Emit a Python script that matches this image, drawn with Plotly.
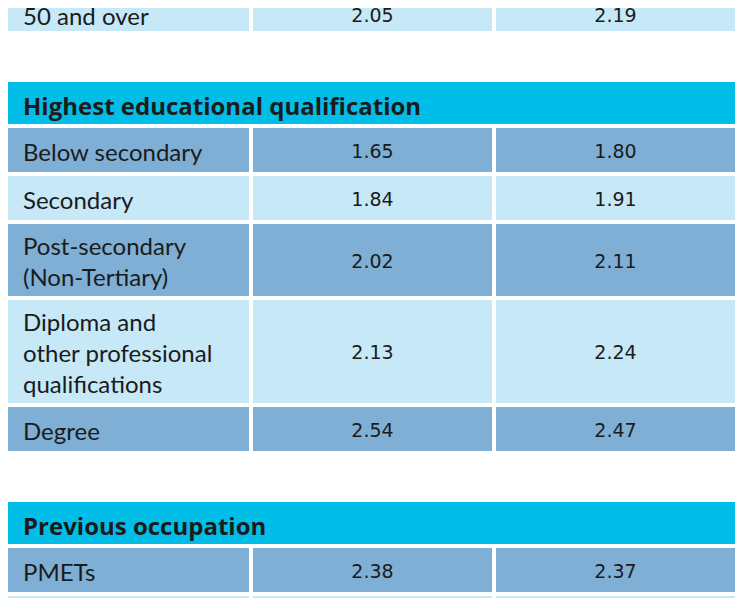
import plotly.graph_objects as go

# table content, top to bottom ("head" rows are section headers spanning the table)
labels = [
    "50 and over",
    "Highest educational qualification",
    "Below secondary",
    "Secondary",
    "Post-secondary<br>(Non-Tertiary)",
    "Diploma and<br>other professional<br>qualifications",
    "Degree",
    "Previous occupation",
    "PMETs",
    "",
]
col2_values = ["2.05", "", "1.65", "1.84", "2.02", "2.13", "2.54", "", "2.38", ""]
col3_values = ["2.19", "", "1.80", "1.91", "2.11", "2.24", "2.47", "", "2.37", ""]
row_kind = ["light", "head", "dark", "light", "dark", "light", "dark", "head", "dark", "light"]

# layout constants (pixels)
W, H = 747, 598
PAD = 8  # page body margin, the axes are shifted so data units equal window pixels
COLS = [(7, 249), (253, 492), (496, 735)]
GAP = 4
SECTION_GAP = 51
ROW_H = {1: 44, 2: 72, 3: 103}
FIRST_ROW_H = 34  # only the lower part of the first row is in view
HEAD_H = 42
FILL = {"light": "#C6E8F7", "dark": "#7FAFD5", "head": "#00BEE8"}
TEXT = "#1b1b1b"
LABEL_FONT = "Lato"
HEAD_FONT = "Open Sans"
NUM_FONT = "DejaVu Sans"

fig = go.Figure()
shapes, annotations = [], []
num_x, num_y, num_text = [], [], []

y = 31 - FIRST_ROW_H
for i, (lab, v2, v3, kind) in enumerate(zip(labels, col2_values, col3_values, row_kind)):
    if kind == "head":
        if i > 0:
            y += SECTION_GAP - GAP
        h = HEAD_H
        shapes.append(dict(type="rect", xref="x", yref="y", x0=COLS[0][0], x1=COLS[2][1],
                           y0=y, y1=y + h, fillcolor=FILL[kind], line_width=0, layer="below"))
        annotations.append(dict(x=COLS[0][0] + 14, y=y + h / 2 + 2, xref="x", yref="y",
                                text="<b>" + lab + "</b>", showarrow=False, xanchor="left",
                                yanchor="middle", font=dict(family=HEAD_FONT, size=24, color=TEXT)))
    else:
        h = FIRST_ROW_H if i == 0 else ROW_H[lab.count("<br>") + 1]
        for (x0, x1) in COLS:
            shapes.append(dict(type="rect", xref="x", yref="y", x0=x0, x1=x1,
                               y0=y, y1=y + h, fillcolor=FILL[kind], line_width=0, layer="below"))
        annotations.append(dict(x=COLS[0][0] + 14, y=y + h / 2 + 1, xref="x", yref="y",
                                text=lab, showarrow=False, xanchor="left", align="left",
                                yanchor="middle", font=dict(family=LABEL_FONT, size=24, color=TEXT)))
        for (x0, x1), v in zip(COLS[1:], (v2, v3)):
            num_x.append((x0 + x1) / 2)
            num_y.append(y + h / 2 + 3)
            num_text.append(v)
    y += h + GAP

fig.add_trace(go.Scatter(x=num_x, y=num_y, text=num_text, mode="text",
                         textposition="middle center", hoverinfo="skip",
                         textfont=dict(family=NUM_FONT, size=19, color=TEXT)))

fig.update_layout(
    width=W, height=H,
    margin=dict(l=0, r=0, t=0, b=0),
    paper_bgcolor="white", plot_bgcolor="white",
    showlegend=False,
    shapes=shapes, annotations=annotations,
    xaxis=dict(range=[PAD, W + PAD], visible=False, fixedrange=True),
    yaxis=dict(range=[H + PAD, PAD], visible=False, fixedrange=True),
)

fig.write_html("out.html")
